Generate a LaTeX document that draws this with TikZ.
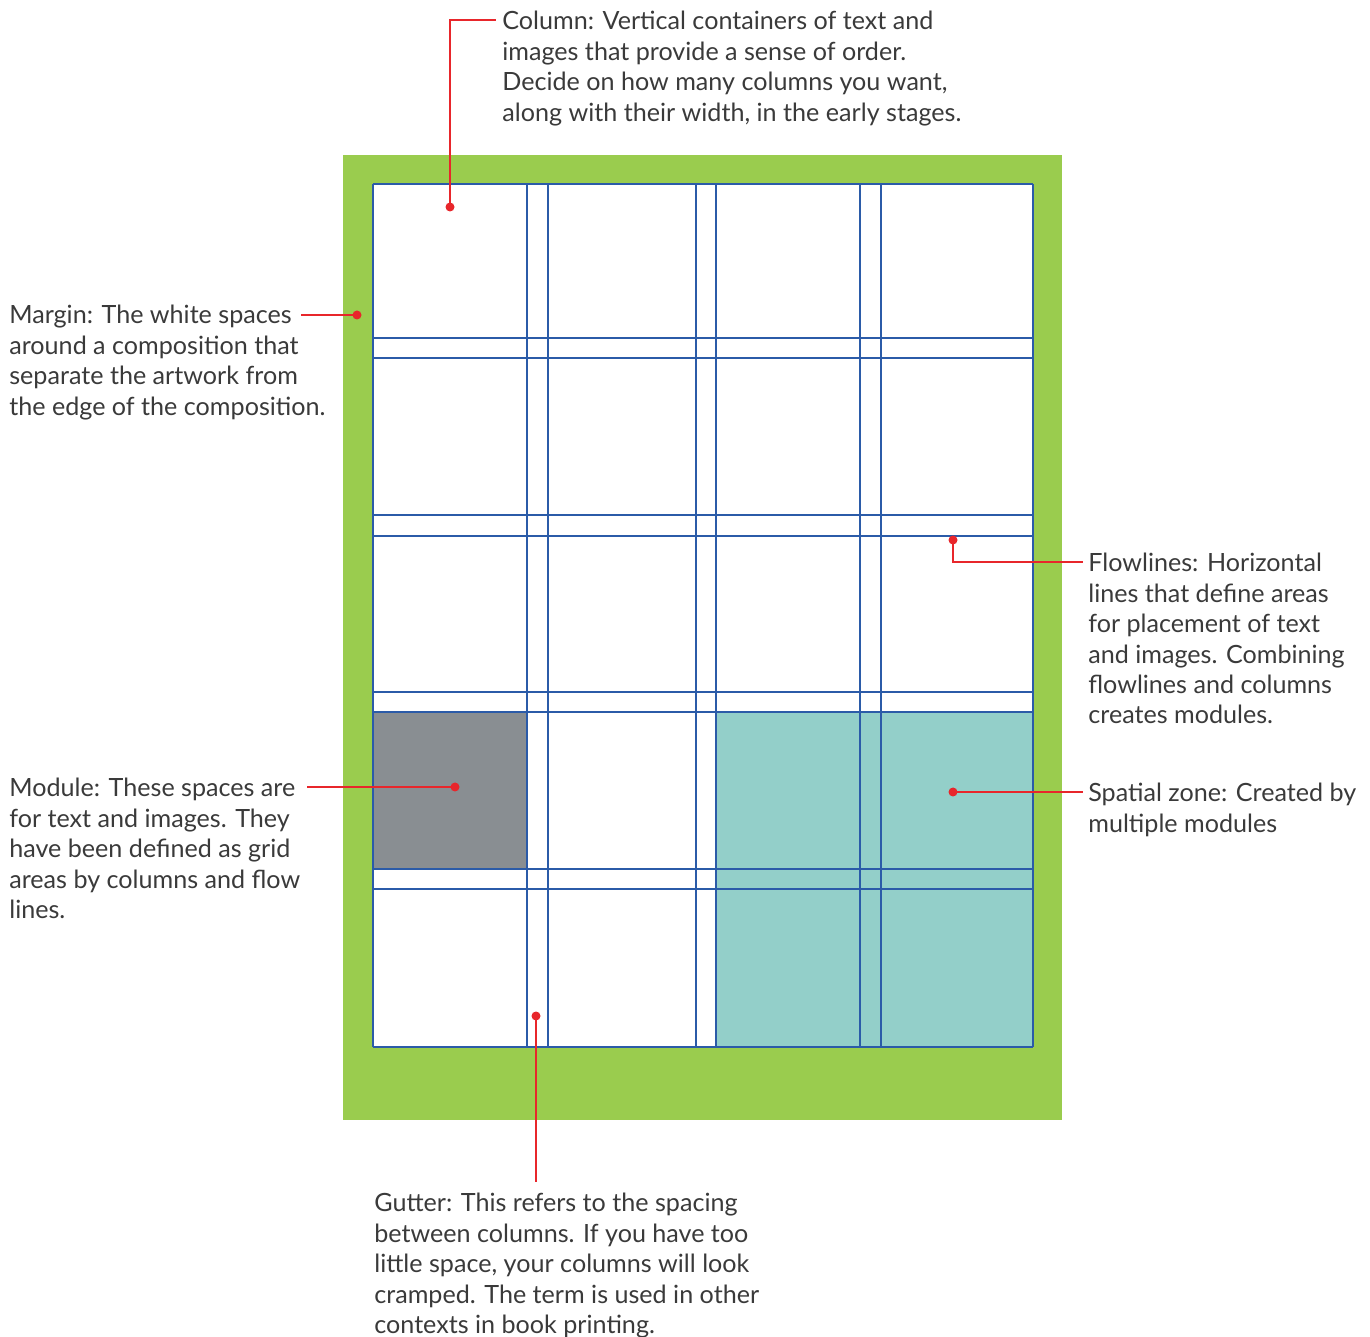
\documentclass[tikz,border=0pt]{standalone}
\usepackage{fontspec}
\setmainfont{Lato}
\usetikzlibrary{calc}

\definecolor{marginGreen}{HTML}{9ACC4E}
\definecolor{gridBlue}{HTML}{2B5BA8}
\definecolor{moduleGray}{HTML}{898E92}
\definecolor{zoneTeal}{HTML}{93CFC9}
\definecolor{callRed}{HTML}{E8262B}
\definecolor{labelGray}{HTML}{3A3A3A}

\tikzset{
  gridline/.style={draw=gridBlue, line width=1.1pt},
  callout/.style={draw=callRed, line width=0.8pt},
  label/.style={anchor=north west, inner sep=0pt, align=left, text=labelGray,
    font=\fontsize{14.3}{17.3}\selectfont},
}

\begin{document}
\begin{tikzpicture}[x=0.02cm, y=-0.02cm]

\useasboundingbox (0,0) rectangle (1370,1337);

% page and margin
\fill[marginGreen] (343,155) rectangle (1062,1120);
\fill[white] (373,184) rectangle (1033,1047);

% module and spatial zone
\fill[moduleGray] (373,712) rectangle (527,869);
\fill[zoneTeal] (716,712) rectangle (1033,1047);

% grid lines
\foreach \x in {373,527,548,696,716,860,881,1033}
  \draw[gridline] (\x,184) -- (\x,1047);
\foreach \y in {184,338,358,515,536,692,712,869,889,1047}
  \draw[gridline] (373,\y) -- (1033,\y);

% labels
\node[label] (column) at (502,11) {Column: Vertical containers of text and\\images that provide a sense of order.\\Decide on how many columns you want,\\along with their width, in the early stages.};
\node[label] (margin) at (9,305) {Margin: The white spaces\\around a composition that\\separate the artwork from\\the edge of the composition.};
\node[label] (flow) at (1088,553) {Flowlines: Horizontal\\lines that define areas\\for placement of text\\and images. Combining\\flowlines and columns\\creates modules.};
\node[label] (module) at (9,778) {Module: These spaces are\\for text and images. They\\have been defined as grid\\areas by columns and flow\\lines.};
\node[label] (zone) at (1088,783) {Spatial zone: Created by\\multiple modules};
\node[label] (gutter) at (374,1193) {Gutter: This refers to the spacing\\between columns. If you have too\\little space, your columns will look\\cramped. The term is used in other\\contexts in book printing.};

% callout points
\coordinate (colDot) at (450,207);
\coordinate (marDot) at (357,315);
\coordinate (flowDot) at (953,540);
\coordinate (modDot) at (455,787);
\coordinate (zoneDot) at (953,792);
\coordinate (gutDot) at (536,1016);

\coordinate (colEnd) at (496,20);
\coordinate (marEnd) at (301,315);
\coordinate (flowEnd) at (1083,562);
\coordinate (modEnd) at (307,787);
\coordinate (zoneEnd) at (1083,792);
\coordinate (gutEnd) at (536,1182);

\draw[callout] (colDot) |- (colEnd);
\draw[callout] (marDot) -- (marEnd);
\draw[callout] (flowDot) |- (flowEnd);
\draw[callout] (modDot) -- (modEnd);
\draw[callout] (zoneDot) -- (zoneEnd);
\draw[callout] (gutDot) -- (gutEnd);

\foreach \p in {colDot,marDot,flowDot,modDot,zoneDot,gutDot}
  \fill[callRed] (\p) circle (4.5);

\end{tikzpicture}
\end{document}
